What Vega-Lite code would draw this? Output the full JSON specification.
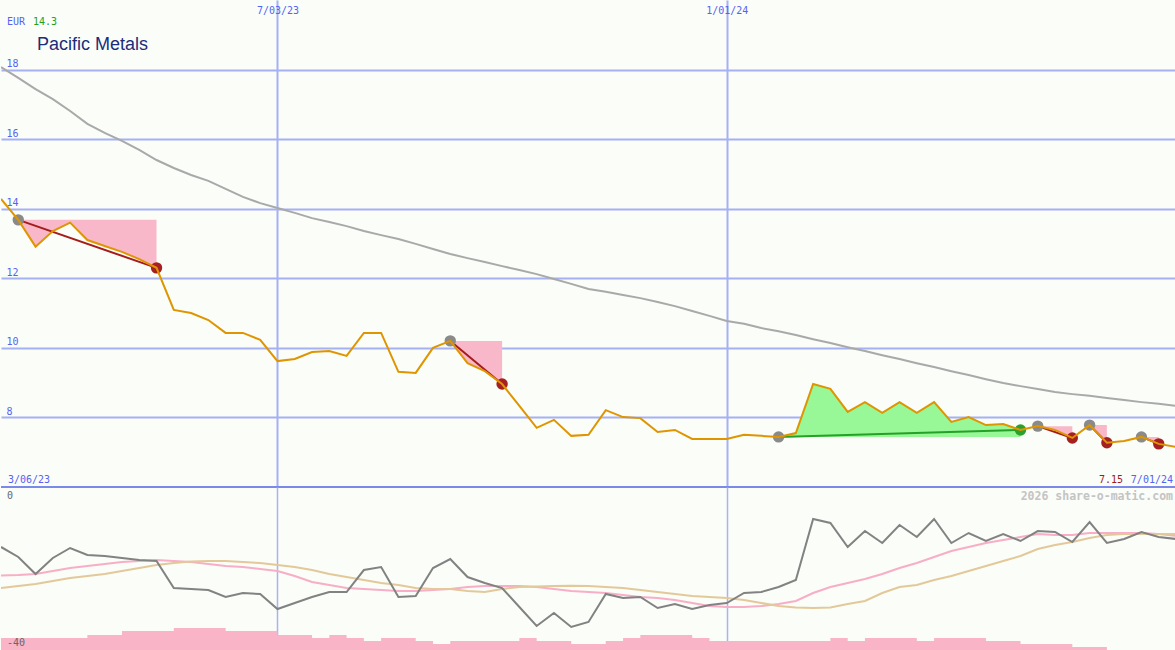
{
  "$schema": "https://vega.github.io/schema/vega-lite/v6.json",
  "background": "#fafdf8",
  "padding": 0,
  "spacing": 0,
  "bounds": "flush",
  "config": {
    "view": {"stroke": null},
    "axis": {"domain": false, "ticks": false, "tickSize": 0, "title": null, "labelFont": "DejaVu Sans Mono", "labelFontSize": 10, "labelColor": "#5563f2", "labelFlush": false, "labelOverlap": false}
  },
  "resolve": {"scale": {"x": "independent", "y": "independent"}},
  "datasets": {
    "weeks": [
      {"d": "2023-03-13", "p": 14.28, "ma": 18.07, "o": -14.72, "pm": -21.72, "tm": -24.79, "v": -37.06},
      {"d": "2023-03-20", "p": 13.68, "ma": 17.76, "o": -17.18, "pm": -21.60, "tm": -24.29, "v": -37.06, "t": 1, "b": 13.68, "r": "loss"},
      {"d": "2023-03-27", "p": 12.91, "ma": 17.44, "o": -21.35, "pm": -21.35, "tm": -23.80, "v": -37.06, "t": 1, "b": 13.68, "r": "loss"},
      {"d": "2023-04-03", "p": 13.36, "ma": 17.15, "o": -17.42, "pm": -20.61, "tm": -23.07, "v": -37.06, "t": 1, "b": 13.68, "r": "loss"},
      {"d": "2023-04-10", "p": 13.60, "ma": 16.81, "o": -14.97, "pm": -19.88, "tm": -22.33, "v": -37.06, "t": 1, "b": 13.68, "r": "loss"},
      {"d": "2023-04-17", "p": 13.10, "ma": 16.44, "o": -16.69, "pm": -19.39, "tm": -21.84, "v": -36.32, "t": 1, "b": 13.68, "r": "loss"},
      {"d": "2023-04-24", "p": 12.93, "ma": 16.18, "o": -16.93, "pm": -18.90, "tm": -21.35, "v": -36.32, "t": 1, "b": 13.68, "r": "loss"},
      {"d": "2023-05-01", "p": 12.76, "ma": 15.95, "o": -17.42, "pm": -18.40, "tm": -20.61, "v": -35.34, "t": 1, "b": 13.68, "r": "loss"},
      {"d": "2023-05-08", "p": 12.55, "ma": 15.69, "o": -17.91, "pm": -18.16, "tm": -19.88, "v": -35.34, "t": 1, "b": 13.68, "r": "loss"},
      {"d": "2023-05-15", "p": 12.30, "ma": 15.40, "o": -18.16, "pm": -17.91, "tm": -19.14, "v": -35.34, "t": 1, "b": 13.68, "r": "loss"},
      {"d": "2023-05-22", "p": 11.09, "ma": 15.17, "o": -24.79, "pm": -18.16, "tm": -18.65, "v": -34.60},
      {"d": "2023-05-29", "p": 11.00, "ma": 14.97, "o": -25.03, "pm": -18.40, "tm": -18.28, "v": -34.60},
      {"d": "2023-06-05", "p": 10.80, "ma": 14.80, "o": -25.28, "pm": -18.90, "tm": -18.16, "v": -34.60},
      {"d": "2023-06-12", "p": 10.43, "ma": 14.57, "o": -26.99, "pm": -19.39, "tm": -18.16, "v": -35.34},
      {"d": "2023-06-19", "p": 10.43, "ma": 14.34, "o": -26.01, "pm": -19.63, "tm": -18.40, "v": -35.34},
      {"d": "2023-06-26", "p": 10.23, "ma": 14.16, "o": -26.26, "pm": -20.12, "tm": -18.65, "v": -35.34},
      {"d": "2023-07-03", "p": 9.62, "ma": 14.02, "o": -29.94, "pm": -20.61, "tm": -19.14, "v": -36.32},
      {"d": "2023-07-10", "p": 9.68, "ma": 13.88, "o": -28.47, "pm": -21.84, "tm": -19.63, "v": -36.32},
      {"d": "2023-07-17", "p": 9.88, "ma": 13.73, "o": -26.99, "pm": -23.31, "tm": -20.37, "v": -37.06},
      {"d": "2023-07-24", "p": 9.91, "ma": 13.62, "o": -25.77, "pm": -24.05, "tm": -21.35, "v": -36.32},
      {"d": "2023-07-31", "p": 9.77, "ma": 13.50, "o": -25.77, "pm": -24.79, "tm": -22.09, "v": -37.06},
      {"d": "2023-08-07", "p": 10.43, "ma": 13.36, "o": -20.37, "pm": -25.03, "tm": -22.82, "v": -37.79},
      {"d": "2023-08-14", "p": 10.43, "ma": 13.24, "o": -19.63, "pm": -25.28, "tm": -23.56, "v": -37.06},
      {"d": "2023-08-21", "p": 9.31, "ma": 13.13, "o": -26.99, "pm": -25.52, "tm": -24.05, "v": -37.06},
      {"d": "2023-08-28", "p": 9.28, "ma": 12.99, "o": -26.75, "pm": -25.52, "tm": -24.79, "v": -37.79},
      {"d": "2023-09-04", "p": 10.00, "ma": 12.84, "o": -19.88, "pm": -25.28, "tm": -25.03, "v": -38.53},
      {"d": "2023-09-11", "p": 10.20, "ma": 12.70, "o": -17.67, "pm": -25.03, "tm": -25.03, "v": -37.79, "t": 2, "b": 10.20, "r": "loss"},
      {"d": "2023-09-18", "p": 9.56, "ma": 12.58, "o": -22.09, "pm": -24.54, "tm": -25.52, "v": -37.79, "t": 2, "b": 10.20, "r": "loss"},
      {"d": "2023-09-25", "p": 9.33, "ma": 12.47, "o": -23.56, "pm": -24.29, "tm": -25.77, "v": -37.79, "t": 2, "b": 10.20, "r": "loss"},
      {"d": "2023-10-02", "p": 8.96, "ma": 12.35, "o": -24.79, "pm": -24.29, "tm": -25.03, "v": -37.79, "t": 2, "b": 10.20, "r": "loss"},
      {"d": "2023-10-09", "p": 8.33, "ma": 12.24, "o": -29.45, "pm": -24.29, "tm": -24.54, "v": -37.06},
      {"d": "2023-10-16", "p": 7.70, "ma": 12.12, "o": -34.11, "pm": -24.54, "tm": -24.42, "v": -37.79},
      {"d": "2023-10-23", "p": 7.93, "ma": 11.98, "o": -30.92, "pm": -25.03, "tm": -24.29, "v": -37.79},
      {"d": "2023-10-30", "p": 7.47, "ma": 11.84, "o": -34.36, "pm": -25.52, "tm": -24.22, "v": -38.53},
      {"d": "2023-11-06", "p": 7.50, "ma": 11.69, "o": -33.13, "pm": -25.77, "tm": -24.29, "v": -38.53},
      {"d": "2023-11-13", "p": 8.21, "ma": 11.61, "o": -26.26, "pm": -26.01, "tm": -24.54, "v": -37.79},
      {"d": "2023-11-20", "p": 8.01, "ma": 11.52, "o": -27.24, "pm": -26.50, "tm": -24.79, "v": -37.06},
      {"d": "2023-11-27", "p": 7.98, "ma": 11.43, "o": -26.99, "pm": -26.99, "tm": -25.28, "v": -36.32},
      {"d": "2023-12-04", "p": 7.58, "ma": 11.32, "o": -29.69, "pm": -27.24, "tm": -25.77, "v": -36.32},
      {"d": "2023-12-11", "p": 7.64, "ma": 11.20, "o": -28.71, "pm": -27.73, "tm": -26.26, "v": -36.32},
      {"d": "2023-12-18", "p": 7.38, "ma": 11.06, "o": -29.94, "pm": -28.47, "tm": -26.75, "v": -37.06},
      {"d": "2023-12-25", "p": 7.38, "ma": 10.92, "o": -28.96, "pm": -29.20, "tm": -26.99, "v": -37.79},
      {"d": "2024-01-01", "p": 7.38, "ma": 10.77, "o": -28.47, "pm": -29.45, "tm": -27.24, "v": -37.79},
      {"d": "2024-01-08", "p": 7.50, "ma": 10.69, "o": -26.01, "pm": -29.45, "tm": -27.73, "v": -37.79},
      {"d": "2024-01-15", "p": 7.47, "ma": 10.57, "o": -25.77, "pm": -29.20, "tm": -28.47, "v": -37.79},
      {"d": "2024-01-22", "p": 7.44, "ma": 10.48, "o": -24.54, "pm": -28.71, "tm": -29.20, "v": -37.79, "t": 3, "b": 7.44, "r": "win"},
      {"d": "2024-01-29", "p": 7.55, "ma": 10.37, "o": -22.82, "pm": -27.98, "tm": -29.57, "v": -37.79, "t": 3, "b": 7.44, "r": "win"},
      {"d": "2024-02-05", "p": 8.96, "ma": 10.25, "o": -7.85, "pm": -26.01, "tm": -29.69, "v": -37.79, "t": 3, "b": 7.44, "r": "win"},
      {"d": "2024-02-12", "p": 8.82, "ma": 10.14, "o": -8.83, "pm": -24.54, "tm": -29.57, "v": -37.06, "t": 3, "b": 7.44, "r": "win"},
      {"d": "2024-02-19", "p": 8.16, "ma": 10.02, "o": -14.72, "pm": -23.56, "tm": -28.71, "v": -37.79, "t": 3, "b": 7.44, "r": "win"},
      {"d": "2024-02-26", "p": 8.44, "ma": 9.91, "o": -10.80, "pm": -22.58, "tm": -27.98, "v": -37.06, "t": 3, "b": 7.44, "r": "win"},
      {"d": "2024-03-04", "p": 8.13, "ma": 9.79, "o": -13.74, "pm": -21.35, "tm": -26.01, "v": -37.06, "t": 3, "b": 7.44, "r": "win"},
      {"d": "2024-03-11", "p": 8.44, "ma": 9.68, "o": -9.33, "pm": -19.88, "tm": -24.54, "v": -37.06, "t": 3, "b": 7.44, "r": "win"},
      {"d": "2024-03-18", "p": 8.13, "ma": 9.56, "o": -12.27, "pm": -18.65, "tm": -24.05, "v": -37.79, "t": 3, "b": 7.44, "r": "win"},
      {"d": "2024-03-25", "p": 8.44, "ma": 9.45, "o": -7.85, "pm": -17.18, "tm": -22.82, "v": -37.06, "t": 3, "b": 7.44, "r": "win"},
      {"d": "2024-04-01", "p": 7.87, "ma": 9.33, "o": -13.74, "pm": -15.71, "tm": -21.84, "v": -37.06, "t": 3, "b": 7.44, "r": "win"},
      {"d": "2024-04-08", "p": 8.01, "ma": 9.22, "o": -11.29, "pm": -14.72, "tm": -20.61, "v": -37.06, "t": 3, "b": 7.44, "r": "win"},
      {"d": "2024-04-15", "p": 7.78, "ma": 9.10, "o": -13.25, "pm": -13.74, "tm": -19.39, "v": -37.79, "t": 3, "b": 7.44, "r": "win"},
      {"d": "2024-04-22", "p": 7.81, "ma": 8.99, "o": -11.53, "pm": -13.01, "tm": -18.16, "v": -37.79, "t": 3, "b": 7.44, "r": "win"},
      {"d": "2024-04-29", "p": 7.64, "ma": 8.90, "o": -13.25, "pm": -12.27, "tm": -16.93, "v": -38.53, "t": 3, "b": 7.44, "r": "win"},
      {"d": "2024-05-06", "p": 7.75, "ma": 8.82, "o": -10.80, "pm": -11.53, "tm": -15.21, "v": -38.53, "t": 4, "b": 7.75, "r": "loss"},
      {"d": "2024-05-13", "p": 7.64, "ma": 8.73, "o": -11.04, "pm": -11.78, "tm": -14.23, "v": -38.53, "t": 4, "b": 7.75, "r": "loss"},
      {"d": "2024-05-20", "p": 7.41, "ma": 8.67, "o": -13.50, "pm": -11.78, "tm": -13.50, "v": -39.26, "t": 4, "b": 7.75, "r": "loss"},
      {"d": "2024-05-27", "p": 7.78, "ma": 8.62, "o": -8.59, "pm": -11.29, "tm": -12.52, "v": -39.26, "t": 5, "b": 7.78, "r": "loss"},
      {"d": "2024-06-03", "p": 7.27, "ma": 8.56, "o": -13.74, "pm": -11.29, "tm": -11.78, "v": -40, "t": 5, "b": 7.78, "r": "loss"},
      {"d": "2024-06-10", "p": 7.32, "ma": 8.50, "o": -12.76, "pm": -11.29, "tm": -11.53, "v": -40},
      {"d": "2024-06-17", "p": 7.44, "ma": 8.44, "o": -11.04, "pm": -11.29, "tm": -11.53, "v": -40, "t": 6, "b": 7.44, "r": "loss"},
      {"d": "2024-06-24", "p": 7.24, "ma": 8.39, "o": -12.27, "pm": -11.53, "tm": -11.53, "v": -40, "t": 6, "b": 7.44, "r": "loss"},
      {"d": "2024-07-01", "p": 7.15, "ma": 8.33, "o": -12.76, "pm": -12.02, "tm": -11.53, "v": -40}
    ],
    "trades": [
      {"entry": "2023-03-20", "ep": 13.68, "exit": "2023-05-15", "xp": 12.30, "res": "loss"},
      {"entry": "2023-09-11", "ep": 10.20, "exit": "2023-10-02", "xp": 8.96, "res": "loss"},
      {"entry": "2024-01-22", "ep": 7.44, "exit": "2024-04-29", "xp": 7.64, "res": "win"},
      {"entry": "2024-05-06", "ep": 7.75, "exit": "2024-05-20", "xp": 7.41, "res": "loss"},
      {"entry": "2024-05-27", "ep": 7.78, "exit": "2024-06-03", "xp": 7.27, "res": "loss"},
      {"entry": "2024-06-17", "ep": 7.44, "exit": "2024-06-24", "xp": 7.24, "res": "loss"}
    ]
  },
  "vconcat": [
    {
      "width": 1175,
      "height": 487,
      "layer": [
        {
          "data": {"values": [{}]},
          "mark": {"type": "rule", "color": "#7b89ea", "strokeWidth": 2},
          "encoding": {
            "y": {"datum": 6, "scale": {"domain": [6, 20], "nice": false, "zero": false}, "title": null}
          }
        },
        {
          "data": {"name": "weeks"},
          "transform": [{"filter": "datum.r === 'loss'"}],
          "mark": {"type": "area", "color": "#f9b8c9", "opacity": 1, "clip": true},
          "encoding": {
            "x": {"field": "d", "type": "temporal", "title": null},
            "y": {"field": "p", "type": "quantitative", "title": null},
            "y2": {"field": "b"},
            "detail": {"field": "t", "type": "nominal"}
          }
        },
        {
          "data": {"name": "weeks"},
          "transform": [{"filter": "datum.r === 'win'"}],
          "mark": {"type": "area", "color": "#98f898", "opacity": 1, "clip": true},
          "encoding": {
            "x": {"field": "d", "type": "temporal", "title": null},
            "y": {"field": "p", "type": "quantitative", "title": null},
            "y2": {"field": "b"},
            "detail": {"field": "t", "type": "nominal"}
          }
        },
        {
          "data": {"name": "weeks"},
          "mark": {"type": "line", "color": "#a9a9a9", "strokeWidth": 2, "clip": true},
          "encoding": {
            "x": {"field": "d", "type": "temporal", "title": null},
            "y": {"field": "ma", "type": "quantitative", "title": null}
          }
        },
        {
          "data": {"name": "trades"},
          "mark": {"type": "rule", "strokeWidth": 2},
          "encoding": {
            "x": {"field": "entry", "type": "temporal", "title": null},
            "y": {"field": "ep", "type": "quantitative", "title": null},
            "x2": {"field": "exit"},
            "y2": {"field": "xp"},
            "color": {"condition": {"test": "datum.res === 'win'", "value": "#26a026"}, "value": "#a41c1c"}
          }
        },
        {
          "data": {"name": "trades"},
          "mark": {"type": "point", "filled": true, "opacity": 1, "size": 130, "color": "#8a8a8a"},
          "encoding": {
            "x": {"field": "entry", "type": "temporal", "title": null},
            "y": {"field": "ep", "type": "quantitative", "title": null}
          }
        },
        {
          "data": {"name": "trades"},
          "mark": {"type": "point", "filled": true, "opacity": 1, "size": 130},
          "encoding": {
            "x": {"field": "exit", "type": "temporal", "title": null},
            "y": {"field": "xp", "type": "quantitative", "title": null},
            "color": {"condition": {"test": "datum.res === 'win'", "value": "#2ca02c"}, "value": "#a52020"}
          }
        },
        {
          "data": {"name": "weeks"},
          "mark": {"type": "line", "color": "#df9500", "strokeWidth": 2, "clip": true},
          "encoding": {
            "x": {
              "field": "d", "type": "temporal", "title": null,
              "scale": {"type": "utc", "domain": [{"year": 2023, "month": 3, "date": 13, "utc": true}, {"year": 2024, "month": 7, "date": 1, "utc": true}], "nice": false},
              "axis": {
                "orient": "top",
                "values": [{"year": 2023, "month": 7, "date": 3, "utc": true}, {"year": 2024, "month": 1, "date": 1, "utc": true}],
                "format": "%-m/%d/%y",
                "grid": true, "gridColor": "#a5b1f3", "gridWidth": 2, "gridOpacity": 1,
                "labelPadding": -13, "labelBaseline": "alphabetic", "labelAlign": "center"
              }
            },
            "y": {
              "field": "p", "type": "quantitative", "title": null,
              "axis": {
                "orient": "left",
                "values": [8, 10, 12, 14, 16, 18],
                "grid": true, "gridColor": "#a5b1f3", "gridWidth": 2, "gridOpacity": 1,
                "labelPadding": -5, "labelAlign": "left", "labelBaseline": "alphabetic", "labelOffset": -3
              }
            }
          }
        },
        {
          "data": {"values": [{}]},
          "mark": {"type": "text", "text": "EUR", "font": "DejaVu Sans Mono", "fontSize": 10, "color": "#5563f2", "align": "left", "baseline": "alphabetic", "dx": 6, "dy": 25},
          "encoding": {
            "x": {"datum": {"year": 2023, "month": 3, "date": 13, "utc": true}, "type": "temporal"},
            "y": {"datum": 20}
          }
        },
        {
          "data": {"values": [{}]},
          "mark": {"type": "text", "text": "14.3", "font": "DejaVu Sans Mono", "fontSize": 10, "color": "#22a022", "align": "left", "baseline": "alphabetic", "dx": 32, "dy": 25},
          "encoding": {
            "x": {"datum": {"year": 2023, "month": 3, "date": 13, "utc": true}, "type": "temporal"},
            "y": {"datum": 20}
          }
        },
        {
          "data": {"values": [{}]},
          "mark": {"type": "text", "text": "Pacific Metals", "font": "Liberation Sans", "fontSize": 18, "color": "#1b2d7a", "align": "left", "baseline": "alphabetic", "dx": 36, "dy": 50},
          "encoding": {
            "x": {"datum": {"year": 2023, "month": 3, "date": 13, "utc": true}, "type": "temporal"},
            "y": {"datum": 20}
          }
        },
        {
          "data": {"values": [{}]},
          "mark": {"type": "text", "text": "3/06/23", "font": "DejaVu Sans Mono", "fontSize": 10, "color": "#5563f2", "align": "left", "baseline": "alphabetic", "dx": 7, "dy": -4},
          "encoding": {
            "x": {"datum": {"year": 2023, "month": 3, "date": 13, "utc": true}, "type": "temporal"},
            "y": {"datum": 6}
          }
        },
        {
          "data": {"values": [{}]},
          "mark": {"type": "text", "text": "7.15", "font": "DejaVu Sans Mono", "fontSize": 10, "color": "#a01c1c", "align": "right", "baseline": "alphabetic", "dx": -53, "dy": -4},
          "encoding": {
            "x": {"datum": {"year": 2024, "month": 7, "date": 1, "utc": true}, "type": "temporal"},
            "y": {"datum": 6}
          }
        },
        {
          "data": {"values": [{}]},
          "mark": {"type": "text", "text": "7/01/24", "font": "DejaVu Sans Mono", "fontSize": 10, "color": "#5563f2", "align": "right", "baseline": "alphabetic", "dx": -3, "dy": -4},
          "encoding": {
            "x": {"datum": {"year": 2024, "month": 7, "date": 1, "utc": true}, "type": "temporal"},
            "y": {"datum": 6}
          }
        }
      ]
    },
    {
      "width": 1175,
      "height": 163,
      "layer": [
        {
          "data": {"name": "weeks"},
          "mark": {"type": "area", "interpolate": "step-after", "color": "#f9b4c8", "opacity": 1, "clip": true},
          "encoding": {
            "x": {
              "field": "d", "type": "temporal", "title": null,
              "scale": {"type": "utc", "domain": [{"year": 2023, "month": 3, "date": 13, "utc": true}, {"year": 2024, "month": 7, "date": 1, "utc": true}], "nice": false},
              "axis": {
                "orient": "bottom",
                "values": [{"year": 2023, "month": 7, "date": 3, "utc": true}, {"year": 2024, "month": 1, "date": 1, "utc": true}],
                "grid": true, "gridColor": "#a8b3f5", "gridWidth": 1.5, "gridOpacity": 1, "labels": false
              }
            },
            "y": {"field": "v", "type": "quantitative", "title": null, "scale": {"domain": [-40, 0], "nice": false, "zero": false}, "axis": null},
            "y2": {"datum": -40}
          }
        },
        {
          "data": {"name": "weeks"},
          "mark": {"type": "line", "color": "#f7aec6", "strokeWidth": 2, "clip": true},
          "encoding": {
            "x": {"field": "d", "type": "temporal", "title": null},
            "y": {"field": "pm", "type": "quantitative", "title": null, "axis": null}
          }
        },
        {
          "data": {"name": "weeks"},
          "mark": {"type": "line", "color": "#e3c999", "strokeWidth": 2, "clip": true},
          "encoding": {
            "x": {"field": "d", "type": "temporal", "title": null},
            "y": {"field": "tm", "type": "quantitative", "title": null, "axis": null}
          }
        },
        {
          "data": {"name": "weeks"},
          "mark": {"type": "line", "color": "#828282", "strokeWidth": 2, "clip": true},
          "encoding": {
            "x": {"field": "d", "type": "temporal", "title": null},
            "y": {"field": "o", "type": "quantitative", "title": null, "axis": null}
          }
        },
        {
          "data": {"values": [{}]},
          "mark": {"type": "text", "text": "0", "font": "DejaVu Sans Mono", "fontSize": 10, "color": "#666666", "align": "left", "baseline": "alphabetic", "dx": 6, "dy": 12},
          "encoding": {
            "x": {"datum": {"year": 2023, "month": 3, "date": 13, "utc": true}, "type": "temporal"},
            "y": {"datum": 0}
          }
        },
        {
          "data": {"values": [{}]},
          "mark": {"type": "text", "text": "-40", "font": "DejaVu Sans Mono", "fontSize": 10, "color": "#666666", "align": "left", "baseline": "alphabetic", "dx": 6, "dy": -4},
          "encoding": {
            "x": {"datum": {"year": 2023, "month": 3, "date": 13, "utc": true}, "type": "temporal"},
            "y": {"datum": -40}
          }
        },
        {
          "data": {"values": [{}]},
          "mark": {"type": "text", "text": "2026 share-o-matic.com", "font": "DejaVu Sans Mono", "fontSize": 11.5, "fontWeight": "bold", "color": "#c4c4c4", "align": "right", "baseline": "alphabetic", "dx": -3, "dy": 13},
          "encoding": {
            "x": {"datum": {"year": 2024, "month": 7, "date": 1, "utc": true}, "type": "temporal"},
            "y": {"datum": 0}
          }
        }
      ]
    }
  ]
}
